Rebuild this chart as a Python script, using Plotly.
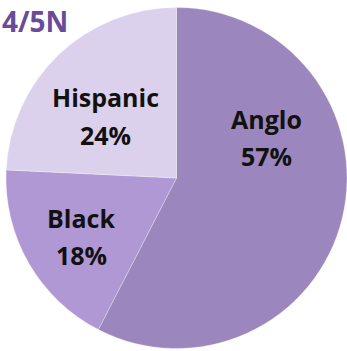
import plotly.graph_objects as go

# Enrollment share by group
groups = ["Anglo", "Black", "Hispanic"]
shares = [57, 18, 24]
colors = ["#9b87bd", "#af98d4", "#dcd1ec"]
title_text = "4/5N"

W, H = 347, 351

# label anchor points (pixels from top-left) for each slice's name and share lines
label_px = {
    "Anglo": (266, 119, 156),
    "Black": (81, 218, 255),
    "Hispanic": (106, 97, 135),
}

fig = go.Figure(
    go.Pie(
        labels=groups,
        values=shares,
        sort=False,
        direction="clockwise",
        rotation=0,
        marker=dict(colors=colors, line=dict(color="rgba(255,255,255,0.35)", width=0.8)),
        textinfo="none",
        hoverinfo="skip",
        showlegend=False,
        domain=dict(x=[6 / W, 1.0], y=[1 - 350 / H, 1 - 6 / H]),
    )
)

font_lbl = dict(family="Open Sans", size=25, color="#111111", weight="bold")
annotations = []
for g, v in zip(groups, shares):
    cx, y1, y2 = label_px[g]
    for text, py in ((g, y1), (f"{v}%", y2)):
        annotations.append(
            dict(
                text=text,
                x=cx / W,
                y=1 - py / H,
                xref="paper",
                yref="paper",
                xanchor="center",
                yanchor="middle",
                showarrow=False,
                font=font_lbl,
            )
        )

annotations.append(
    dict(
        text=title_text,
        x=0,
        y=1,
        xref="paper",
        yref="paper",
        xanchor="left",
        yanchor="top",
        showarrow=False,
        font=dict(family="Open Sans", size=28, color="#6a4b97", weight="bold"),
    )
)

fig.update_layout(
    width=W,
    height=H,
    margin=dict(l=0, r=0, t=0, b=0),
    paper_bgcolor="white",
    plot_bgcolor="white",
    annotations=annotations,
)

fig.write_html("out.html")
